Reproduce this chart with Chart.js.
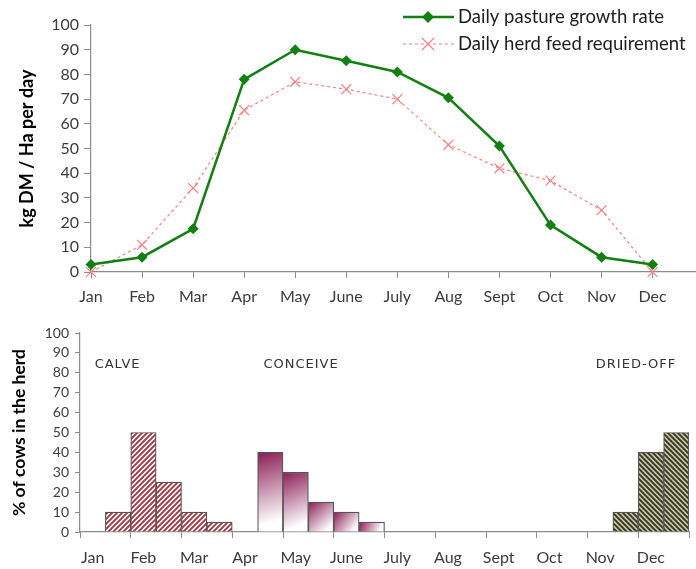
<!DOCTYPE html>
<html>
<head>
<meta charset="utf-8">
<script src="https://cdn.jsdelivr.net/npm/chart.js@4.4.1/dist/chart.umd.min.js"></script>
<style>
  body { margin: 0; background: #fff; }
  #wrap { position: relative; width: 696px; height: 569px; }
  #topBox { position: absolute; left: 0; top: 0; width: 696px; height: 310px; }
  #botBox { position: absolute; left: 0; top: 310px; width: 696px; height: 259px; }
</style>
</head>
<body>
<div id="wrap">
  <div id="topBox"><canvas id="pastureChart" width="696" height="310"></canvas></div>
  <div id="botBox"><canvas id="herdChart" width="696" height="259"></canvas></div>
</div>
<script>
// datos del gráfico de arriba (kg DM / Ha por día)
const months = ['Jan', 'Feb', 'Mar', 'Apr', 'May', 'June', 'July', 'Aug', 'Sept', 'Oct', 'Nov', 'Dec'];
const pastureGrowth = [3, 6, 17.5, 78, 90, 85.5, 81, 70.5, 51, 19, 6, 3];
const herdFeed = [0, 11, 34, 65.5, 77, 74, 70, 51.5, 42, 37, 25, 0];

// datos del gráfico de abajo, en medios meses (24 columnas)
const calving   = [null, 10, 50, 25, 10, 5, null, null, null, null, null, null, null, null, null, null, null, null, null, null, null, null, null, null];
const conceive  = [null, null, null, null, null, null, null, 40, 30, 15, 10, 5, null, null, null, null, null, null, null, null, null, null, null, null];
const driedOff  = [null, null, null, null, null, null, null, null, null, null, null, null, null, null, null, null, null, null, null, null, null, 10, 40, 50];
const stageNames = ['CALVE', 'CONCEIVE', 'DRIED-OFF'];
const yTicks = [0, 10, 20, 30, 40, 50, 60, 70, 80, 90, 100];

const FONT = 'Lato';
const WIDE = 'DejaVu Sans';
const axisGrey = '#8c8c8c';
const labelGrey = '#3c3c3c';

// la muestra de la leyenda se dibuja a mano
const legendPlugin = {
    id: 'manualLegend',
    afterDraw(chart) {
        const c = chart.ctx;
        c.save();
        // linea verde con rombo
        c.strokeStyle = '#118011';
        c.lineWidth = 2.5;
        c.beginPath(); c.moveTo(403, 17); c.lineTo(454, 17); c.stroke();
        c.fillStyle = '#118011';
        c.beginPath(); c.moveTo(428, 11); c.lineTo(434, 17); c.lineTo(428, 23); c.lineTo(422, 17); c.closePath(); c.fill();
        // linea roja punteada con x
        c.strokeStyle = '#ff7d7d';
        c.lineWidth = 1.2;
        c.setLineDash([3, 3]);
        c.beginPath(); c.moveTo(403, 44); c.lineTo(454, 44); c.stroke();
        c.setLineDash([]);
        c.beginPath(); c.moveTo(422, 38); c.lineTo(434, 50); c.moveTo(434, 38); c.lineTo(422, 50); c.stroke();
        c.fillStyle = '#1e1e1e';
        c.font = '18.5px ' + FONT;
        c.textBaseline = 'middle';
        c.fillText('Daily pasture growth rate', 458, 17);
        c.fillText('Daily herd feed requirement', 458, 44);
        c.restore();
    }
};

const ctxTop = document.getElementById('pastureChart');
new Chart(ctxTop, {
    type: 'line',
    data: {
        datasets: [
            {
                label: 'Daily pasture growth rate',
                data: pastureGrowth.map((v, i) => ({ x: i, y: v })),
                borderColor: '#118011',
                backgroundColor: '#118011',
                borderWidth: 2.5,
                pointStyle: 'rectRot',
                pointRadius: 5.5,
                pointBorderWidth: 0,
                clip: false,
            },
            {
                label: 'Daily herd feed requirement',
                data: herdFeed.map((v, i) => ({ x: i, y: v })),
                borderColor: '#ff7d7d',
                backgroundColor: '#ff7d7d',
                borderWidth: 1.2,
                borderDash: [3, 3],
                pointStyle: 'crossRot',
                pointRadius: 7,
                pointBorderWidth: 1.2,
                clip: false,
            }
        ]
    },
    options: {
        responsive: false,
        animation: false,
        layout: { autoPadding: false, padding: { top: 25, left: 0, right: 0, bottom: 0 } },
        plugins: { legend: { display: false }, tooltip: { enabled: false } },
        scales: {
            x: {
                type: 'linear',
                min: 0,
                max: 11.85,
                afterFit: (scale) => { scale.height = 38; scale.paddingRight = 0; scale.paddingLeft = 0; },
                ticks: {
                    stepSize: 1,
                    includeBounds: false,
                    autoSkip: false,
                    maxRotation: 0,
                    padding: 9,
                    color: labelGrey,
                    font: { family: FONT, size: 16 },
                    callback: (value) => months[value] ?? '',
                },
                grid: { drawOnChartArea: false, tickLength: 6, color: axisGrey },
                border: { color: axisGrey, width: 1.2 },
            },
            y: {
                min: 0,
                max: 100,
                afterFit: (scale) => { scale.width = 91; },
                ticks: {
                    stepSize: 10,
                    padding: 5,
                    color: labelGrey,
                    font: { family: FONT, size: 16 },
                },
                grid: { drawOnChartArea: false, tickLength: 7, color: axisGrey },
                border: { color: axisGrey, width: 1.2 },
                title: {
                    display: true,
                    text: 'kg DM / Ha per day',
                    color: '#000',
                    padding: { top: 16, bottom: 0 },
                    font: { family: FONT, size: 18, weight: 'bold' },
                }
            }
        }
    },
    plugins: [legendPlugin]
});

// patrones de rayas para las barras
const stripes = (bg, fg, forward) => {
    const s = 5;
    const cv = document.createElement('canvas');
    cv.width = s; cv.height = s;
    const g = cv.getContext('2d');
    g.fillStyle = bg;
    g.fillRect(0, 0, s, s);
    g.strokeStyle = fg;
    g.lineWidth = 1.9;
    g.beginPath();
    if (forward) {
        g.moveTo(-1, 1); g.lineTo(1, -1);
        g.moveTo(0, s); g.lineTo(s, 0);
        g.moveTo(s - 1, s + 1); g.lineTo(s + 1, s - 1);
    } else {
        g.moveTo(-1, s - 1); g.lineTo(1, s + 1);
        g.moveTo(0, 0); g.lineTo(s, s);
        g.moveTo(s - 1, -1); g.lineTo(s + 1, 1);
    }
    g.stroke();
    return g.createPattern(cv, 'repeat');
};

// degradado para las barras de concepción
const conceiveFill = (context) => {
    const chart = context.chart;
    const xs = chart.scales.x, ys = chart.scales.y;
    if (!xs || !ys || context.raw == null) return '#a03a6a';
    const half = (xs.getPixelForValue(1) - xs.getPixelForValue(0)) / 2;
    const cx = xs.getPixelForValue(context.dataIndex);
    const top = ys.getPixelForValue(context.raw);
    const bot = ys.getPixelForValue(0);
    const grad = chart.ctx.createLinearGradient(cx - half, top, cx + half, bot);
    grad.addColorStop(0, '#8a1c54');
    grad.addColorStop(0.85, '#ffffff');
    return grad;
};

// etiquetas de las etapas dentro del gráfico
const stagePlugin = {
    id: 'stageLabels',
    afterDraw(chart) {
        const xs = chart.scales.x, ys = chart.scales.y;
        const c = chart.ctx;
        const spots = [0.55, 7.2, 20.3];
        c.save();
        c.fillStyle = '#333';
        c.font = '13px ' + WIDE;
        c.letterSpacing = '1px';
        c.textBaseline = 'middle';
        stageNames.forEach((name, i) => {
            const x = xs.getPixelForValue(spots[i]) - 12;
            c.fillText(name, x, ys.getPixelForValue(84));
        });
        c.restore();
    }
};

const halfMonthLabels = calving.map((_, i) => (i % 2 === 0 ? months[i / 2] : ''));
const ctxBot = document.getElementById('herdChart');
new Chart(ctxBot, {
    type: 'bar',
    data: {
        labels: halfMonthLabels,
        datasets: [
            {
                label: stageNames[0],
                data: calving,
                backgroundColor: stripes('#ffffff', '#a8323f', true),
                borderColor: '#555',
                borderWidth: 1.2,
                grouped: false,
                barPercentage: 1,
                categoryPercentage: 1,
            },
            {
                label: stageNames[1],
                data: conceive,
                backgroundColor: conceiveFill,
                borderColor: '#555',
                borderWidth: 1.2,
                grouped: false,
                barPercentage: 1,
                categoryPercentage: 1,
            },
            {
                label: stageNames[2],
                data: driedOff,
                backgroundColor: stripes('#c9c79c', '#34342c', false),
                borderColor: '#555',
                borderWidth: 1.2,
                grouped: false,
                barPercentage: 1,
                categoryPercentage: 1,
            }
        ]
    },
    options: {
        responsive: false,
        animation: false,
        layout: { padding: { top: 23, left: 0, right: 7, bottom: 0 } },
        plugins: { legend: { display: false }, tooltip: { enabled: false } },
        scales: {
            x: {
                offset: true,
                afterFit: (scale) => { scale.height = 37; },
                ticks: {
                    autoSkip: false,
                    maxRotation: 0,
                    padding: 10,
                    color: labelGrey,
                    font: { family: FONT, size: 16 },
                },
                grid: {
                    offset: true,
                    drawOnChartArea: false,
                    tickLength: 6,
                    color: axisGrey,
                    tickColor: (ctx) => (ctx.index === undefined || ctx.index % 2 === 0 ? axisGrey : 'rgba(0,0,0,0)'),
                },
                border: { color: axisGrey, width: 1.2 },
            },
            y: {
                min: 0,
                max: 100,
                afterFit: (scale) => { scale.width = 80; },
                afterBuildTicks: (scale) => { scale.ticks = yTicks.map((v) => ({ value: v })); },
                ticks: {
                    autoSkip: false,
                    padding: 6,
                    color: labelGrey,
                    font: { family: FONT, size: 14 },
                },
                grid: { drawOnChartArea: false, tickLength: 5, color: axisGrey },
                border: { color: axisGrey, width: 1.2 },
                title: {
                    display: true,
                    text: '% of cows in the herd',
                    color: '#000',
                    padding: { top: 9, bottom: 0 },
                    font: { family: FONT, size: 17.5, weight: 'bold' },
                }
            }
        }
    },
    plugins: [stagePlugin]
});
</script>
</body>
</html>
